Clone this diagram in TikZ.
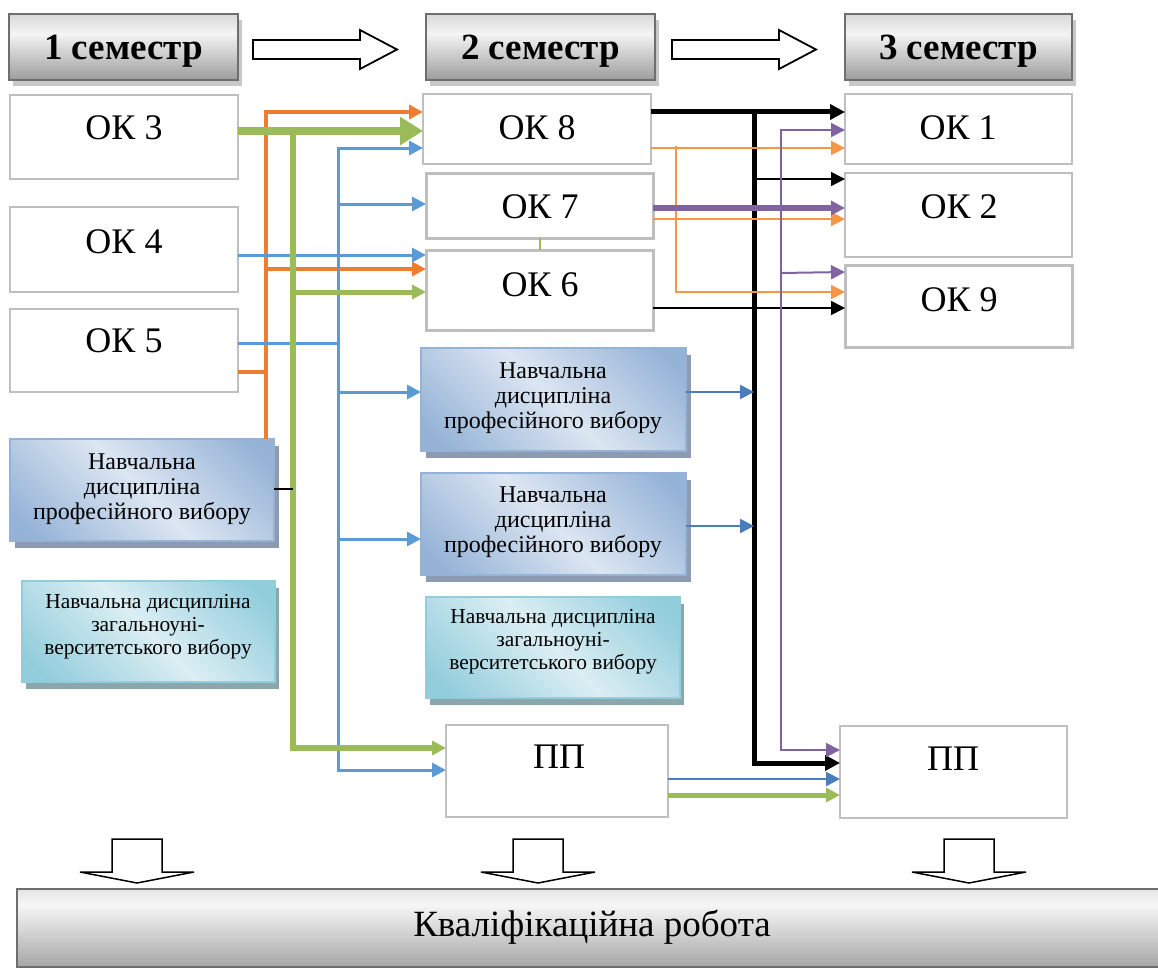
\documentclass[tikz,border=0pt]{standalone}
\usepackage{fontspec}
\setmainfont{Liberation Serif}
\usetikzlibrary{arrows.meta,shadows}
\definecolor{okgray}{HTML}{BFBFBF}
\definecolor{hdrborder}{HTML}{6E6E6E}
\definecolor{hshadow}{HTML}{C8C8C8}
\definecolor{orangeA}{HTML}{ED7D31}
\definecolor{orangeB}{HTML}{F79646}
\definecolor{blueA}{HTML}{5B9BD5}
\definecolor{blueB}{HTML}{4A7EBB}
\definecolor{greenA}{HTML}{9BBB59}
\definecolor{purpleA}{HTML}{8064A2}
\definecolor{bdark}{HTML}{95B3D7}
\definecolor{blight}{HTML}{DCE6F2}
\definecolor{tdark}{HTML}{92CDDC}
\definecolor{tlight}{HTML}{DBEEF3}
\definecolor{bshadow}{HTML}{8C9BB0}
\definecolor{tshadow}{HTML}{8AA7AE}
\definecolor{hbot}{HTML}{9C9C9C}
\definecolor{hmid}{HTML}{F4F4F4}
\definecolor{htop}{HTML}{D8D8D8}
\definecolor{kbot}{HTML}{A6A6A6}
\definecolor{kmid}{HTML}{F6F6F6}
\definecolor{ktop}{HTML}{E4E4E4}
\pgfdeclareverticalshading{hdrshade}{100bp}{color(0bp)=(hbot); color(25bp)=(hbot); color(60bp)=(hmid); color(75bp)=(htop); color(100bp)=(htop)}
\pgfdeclareverticalshading{krshade}{100bp}{color(0bp)=(kbot); color(25bp)=(kbot); color(65bp)=(kmid); color(75bp)=(ktop); color(100bp)=(ktop)}
\pgfdeclarehorizontalshading{bluediag}{100bp}{color(0bp)=(bdark); color(20bp)=(bdark); color(50bp)=(blight); color(80bp)=(bdark); color(100bp)=(bdark)}
\pgfdeclarehorizontalshading{tealdiag}{100bp}{color(0bp)=(tdark); color(20bp)=(tdark); color(50bp)=(tlight); color(80bp)=(tdark); color(100bp)=(tdark)}
\tikzset{
  boxbase/.style={anchor=north west, inner sep=0pt, outer sep=0pt},
  okbox/.style={boxbase, draw=okgray, line width=2.5pt, fill=white},
  hdrbox/.style={boxbase, draw=hdrborder, line width=2.5pt, shading=hdrshade,
     drop shadow={shadow xshift=4pt, shadow yshift=-6pt, fill=hshadow, opacity=1}},
  pvbox/.style={boxbase, draw=bdark, line width=2pt, shading=bluediag, shading angle=45,
     drop shadow={shadow xshift=5pt, shadow yshift=-7pt, fill=bshadow, opacity=1}},
  zvbox/.style={boxbase, draw=tdark, line width=2pt, shading=tealdiag, shading angle=45,
     drop shadow={shadow xshift=4pt, shadow yshift=-7pt, fill=tshadow, opacity=1}},
  krbox/.style={boxbase, draw=hdrborder, line width=2.5pt, shading=krshade},
  hdrtext/.style={inner sep=0pt, font=\fontsize{37}{40}\selectfont\bfseries},
  oktext/.style={inner sep=0pt, font=\fontsize{36}{40}\selectfont},
  krtext/.style={inner sep=0pt, font=\fontsize{37}{40}\selectfont},
  pvtext/.style={inner sep=0pt, align=center, font=\fontsize{24}{25}\selectfont},
  zvtext/.style={inner sep=0pt, align=center, font=\fontsize{21.4}{23}\selectfont},
  arrS/.style={-{Triangle[length=14pt,width=14pt]}},
  arrL/.style={-{Triangle[length=23pt,width=27pt]}},
  blockarrow/.style={draw=black, line width=1.8pt, fill=white, line join=miter},
  oline/.style={draw=orangeA, line width=3.5pt},
  bline/.style={draw=blueA, line width=3pt},
  dbline/.style={draw=blueB, line width=2.5pt},
  gline/.style={draw=greenA, line width=5pt},
  kthick/.style={draw=black, line width=5pt},
  kthin/.style={draw=black, line width=1.6pt},
  loline/.style={draw=orangeB, line width=2pt},
  pthick/.style={draw=purpleA, line width=6pt},
  pthin/.style={draw=purpleA, line width=2pt}
}
\begin{document}
\begin{tikzpicture}[x=1pt,y=-1pt]
\useasboundingbox (0,0) rectangle (1158,971);

% header boxes
\node[hdrbox, minimum width=229pt, minimum height=66pt] (h1) at (9,14) {};
\node[hdrbox, minimum width=229pt, minimum height=66pt] (h2) at (426,14) {};
\node[hdrbox, minimum width=227pt, minimum height=66pt] (h3) at (845,14) {};
\node[hdrtext] (h1t) at (123.5,51) {1 семестр};
\node[hdrtext] (h2t) at (540.5,51) {2 семестр};
\node[hdrtext] (h3t) at (958.5,51) {3 семестр};

% header block arrows
\draw[blockarrow] (253,40) -- (360,40) -- (360,30) -- (397,49.5) -- (360,69) -- (360,59) -- (253,59) -- cycle;
\draw[blockarrow] (672,40) -- (779,40) -- (779,30) -- (816,49.5) -- (779,69) -- (779,59) -- (672,59) -- cycle;

% column 1
\node[okbox, minimum width=228pt, minimum height=84pt] (ok3) at (10,95) {};
\node[okbox, minimum width=228pt, minimum height=85pt] (ok4) at (10,207) {};
\node[okbox, minimum width=228pt, minimum height=83pt] (ok5) at (10,309) {};
\node[oktext] (ok3t) at (124,128) {ОК 3};
\node[oktext] (ok4t) at (124,242) {ОК 4};
\node[oktext] (ok5t) at (124,341) {ОК 5};
\node[pvbox, minimum width=264pt, minimum height=102pt] (pv1) at (10,439) {};
\node[pvtext] (pv1t) at (142,489) {Навчальна\\дисципліна\\професійного вибору};
\node[zvbox, minimum width=253pt, minimum height=101pt] (zv1) at (22,581) {};
\node[zvtext] (zv1t) at (148,627) {Навчальна дисципліна\\загальноуні-\\верситетського вибору};

% column 2
\node[okbox, line width=2pt, minimum width=228pt, minimum height=70pt] (ok8) at (423,94) {};
\node[okbox, line width=3pt, minimum width=227pt, minimum height=65pt] (ok7) at (426,173) {};
\node[okbox, line width=3pt, minimum width=227pt, minimum height=80pt] (ok6) at (426,250) {};
\node[oktext] (ok8t) at (537,128) {ОК 8};
\node[oktext] (ok7t) at (540,207) {ОК 7};
\node[oktext] (ok6t) at (540,285) {ОК 6};
\node[pvbox, minimum width=265pt, minimum height=103pt] (pv2) at (421,348) {};
\node[pvtext] (pv2t) at (553,398) {Навчальна\\дисципліна\\професійного вибору};
\node[pvbox, minimum width=265pt, minimum height=102pt] (pv3) at (421,473) {};
\node[pvtext] (pv3t) at (553,522) {Навчальна\\дисципліна\\професійного вибору};
\node[zvbox, minimum width=254pt, minimum height=101pt] (zv2) at (426,597) {};
\node[zvtext] (zv2t) at (553,642) {Навчальна дисципліна\\загальноуні-\\верситетського вибору};
\node[okbox, line width=2pt, minimum width=222pt, minimum height=92pt] (pp2) at (446,725) {};
\node[oktext] (pp2t) at (559,757) {ПП};

% column 3
\node[okbox, line width=2pt, minimum width=227pt, minimum height=70pt] (ok1) at (845,94) {};
\node[okbox, line width=2pt, minimum width=227pt, minimum height=84pt] (ok2) at (845,173) {};
\node[okbox, line width=3pt, minimum width=227pt, minimum height=82pt] (ok9) at (845,265) {};
\node[oktext] (ok1t) at (958,128) {ОК 1};
\node[oktext] (ok2t) at (959,207) {ОК 2};
\node[oktext] (ok9t) at (959,300) {ОК 9};
\node[okbox, line width=2pt, minimum width=227pt, minimum height=92pt] (pp3) at (840,726) {};
\node[oktext] (pp3t) at (953,759) {ПП};

% bottom block arrows
\foreach \c in {137,538,969}{
  \draw[blockarrow, line width=1.5pt] (\c-25,839) -- (\c+25,839) -- (\c+25,872) -- (\c+57,872) -- (\c,883) -- (\c-57,872) -- (\c-25,872) -- cycle;
}
% bottom box
\node[krbox, minimum width=1160pt, minimum height=78pt] (kr) at (17,889) {};
\node[krtext] (krt) at (592,927) {Кваліфікаційна робота};

% bus coordinates
\coordinate (ob) at (266,112);
\coordinate (gb) at (293,131);
\coordinate (bb) at (338,148);
\coordinate (kb) at (754,112);
\coordinate (lo) at (676,146);
\coordinate (pb) at (781,130);

% orange
\draw[oline, arrS] (ob |- pv1.north) -- (ob) -- (ok8.west |- ob);
\draw[oline] (ok5.east |- 0,372) -- (ob |- 0,372);
\draw[oline, arrS] (ob |- 0,269) -- (ok6.west |- 0,269);

% blue
\draw[bline, {Triangle[length=14pt,width=14pt]}-{Triangle[length=14pt,width=14pt]}] (ok8.west |- bb) -- (bb) -- (bb |- 0,770) -- (pp2.west |- 0,770);
\draw[bline, arrS] (bb |- 0,204) -- (ok7.west |- 0,204);
\draw[bline, arrS] (bb |- 0,392) -- (pv2.west |- 0,392);
\draw[bline, arrS] (bb |- 0,539) -- (pv3.west |- 0,539);
\draw[bline] (ok5.east |- 0,343) -- (bb |- 0,343);
\draw[bline, arrS] (ok4.east |- 0,255) -- (ok6.west |- 0,255);

% green
\draw[gline, line width=6pt, arrS] (gb) -- (gb |- 0,748) -- (pp2.west |- 0,748);
\draw[gline, arrS] (gb |- 0,292) -- (ok6.west |- 0,292);
\draw[gline, line width=8pt, arrL] (ok3.east |- gb) -- (ok8.west |- gb);
\draw[gline, arrS] (pp2.east |- 0,795) -- (pp3.west |- 0,795);
\draw[greenA, line width=2pt] (ok7.south) -- (ok6.north);

% black
\draw[kthin] (pv1.east |- 0,489) -- (gb |- 0,489);
\draw[kthick, -{Triangle[length=15pt,width=15pt]}] (ok8.east |- kb) -- (ok1.west |- kb);
\draw[kthick, -{Triangle[length=15pt,width=15pt]}] (kb) -- (kb |- 0,763) -- (pp3.west |- 0,763);
\draw[kthin, arrS] (kb |- 0,179) -- (ok2.west |- 0,179);
\draw[kthin, arrS] (ok6.east |- 0,308) -- (ok9.west |- 0,308);

% dark blue
\draw[dbline, arrS] (pv2.east |- 0,392) -- (kb |- 0,392);
\draw[dbline, arrS] (pv3.east |- 0,526) -- (kb |- 0,526);
\draw[dbline, arrS] (pp2.east |- 0,779) -- (pp3.west |- 0,779);

% light orange
\draw[loline, arrS] (ok8.east |- 0,148) -- (ok1.west |- 0,148);
\draw[loline, arrS] (ok7.east |- 0,219) -- (ok2.west |- 0,219);
\draw[loline, arrS] (lo) -- (lo |- 0,292) -- (ok9.west |- 0,292);

% purple
\draw[pthick, arrS] (ok7.east |- 0,208) -- (ok2.west |- 0,208);
\draw[pthin, {Triangle[length=14pt,width=14pt]}-{Triangle[length=14pt,width=14pt]}] (ok1.west |- pb) -- (pb) -- (pb |- 0,750) -- (pp3.west |- 0,750);
\draw[pthin, arrS] (pb |- 0,273) -- (ok9.west |- 0,272);
\end{tikzpicture}
\end{document}
